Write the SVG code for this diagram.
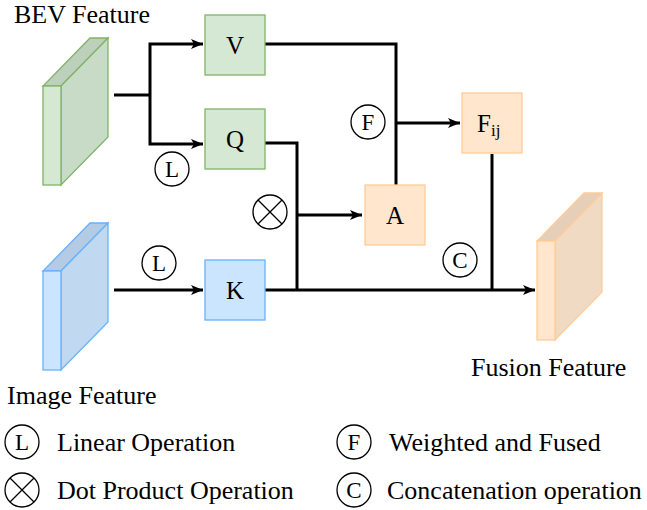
<svg xmlns="http://www.w3.org/2000/svg" width="647" height="510" viewBox="0 0 647 510">
<defs>
<marker id="ah" markerWidth="12" markerHeight="10" refX="12" refY="5" orient="auto" markerUnits="userSpaceOnUse">
<path d="M0,0 L12,5 L0,10 L3,5 Z" fill="#000"/>
</marker>
</defs>
<style>
.c{fill:#fff;stroke:#000;stroke-width:1.3}
.ln{fill:none;stroke:#000;stroke-width:3}
.g{stroke:#82b366;stroke-width:1.3}
.b{stroke:#66b2ff;stroke-width:1.3}
.o{stroke:#ffcc99;stroke-width:1.3}
.t{font-family:'Liberation Serif',serif}
</style>
<rect width="647" height="510" fill="#fff"/>

<g id="connectors">
<path class="ln" d="M114,95 H150 M150,95 V44 H203" marker-end="url(#ah)"/>
<path class="ln" d="M150,95 V144 H203" marker-end="url(#ah)"/>
<path class="ln" d="M265,44 H396 V185"/>
<path class="ln" d="M396,123 H460" marker-end="url(#ah)"/>
<path class="ln" d="M265,143 H297 V290"/>
<path class="ln" d="M297,215 H362" marker-end="url(#ah)"/>
<path class="ln" d="M114,290 H203" marker-end="url(#ah)"/>
<path class="ln" d="M265,290 H535" marker-end="url(#ah)"/>
<path class="ln" d="M492,154 V290"/>
</g>

<g id="bev">
<polygon class="g" points="43,86 61,86 108,38 90,38" fill="#bcd0bb"/>
<polygon class="g" points="61,86 108,38 108,137 61,185" fill="#c7dbc6"/>
<rect class="g" x="43" y="86" width="18" height="99" fill="#d5e8d4"/>
<text style="font-family:'Liberation Serif',serif" font-size="26" x="14" y="23">BEV Feature</text>
</g>

<g id="image">
<polygon class="b" points="43,271 61,271 108,223 90,223" fill="#b3cbe4"/>
<polygon class="b" points="61,271 108,223 108,322 61,370" fill="#c0d8f0"/>
<rect class="b" x="43" y="271" width="18" height="99" fill="#cce5ff"/>
<text font-family="Liberation Serif" font-size="26" x="7" y="404">Image Feature</text>
</g>

<g id="fusion">
<polygon class="o" points="537,241 555,241 602,193 584,193" fill="#e6cfb8"/>
<polygon class="o" points="555,241 602,193 602,292 555,340" fill="#f1dac3"/>
<rect class="o" x="537" y="241" width="18" height="99" fill="#ffe6cc"/>
<text class="t" font-size="26" x="471" y="376">Fusion Feature</text>
</g>

<g id="V">
<rect class="g" x="205" y="15" width="60" height="60" fill="#d5e8d4"/>
<text class="t" font-size="25" text-anchor="middle" x="235" y="54">V</text>
</g>
<g id="Q">
<rect class="g" x="205" y="109" width="60" height="60" fill="#d5e8d4"/>
<text class="t" font-size="25" text-anchor="middle" x="235" y="148">Q</text>
</g>
<g id="K">
<rect class="b" x="205" y="260" width="60" height="60" fill="#cce5ff"/>
<text class="t" font-size="25" text-anchor="middle" x="235" y="299">K</text>
</g>
<g id="A">
<rect class="o" x="365" y="185" width="60" height="60" fill="#ffe6cc"/>
<text class="t" font-size="25" text-anchor="middle" x="395" y="224">A</text>
</g>
<g id="Fij">
<rect class="o" x="462" y="93" width="60" height="60" fill="#ffe6cc"/>
<text class="t" x="477" y="132" font-size="25">F<tspan font-size="17" dy="4">ij</tspan></text>
</g>

<g id="opL1">
<circle class="c" cx="172" cy="169" r="17"/>
<text class="t" font-size="23" text-anchor="middle" x="172" y="177">L</text>
</g>
<g id="opL2">
<circle class="c" cx="159" cy="263" r="17"/>
<text class="t" font-size="23" text-anchor="middle" x="159" y="271">L</text>
</g>
<g id="opDot">
<circle class="c" cx="270" cy="212" r="17"/>
<path d="M258,200 L282,224 M282,200 L258,224" stroke="#000" stroke-width="1.3"/>
</g>
<g id="opF">
<circle class="c" cx="368" cy="122" r="17"/>
<text class="t" font-size="23" text-anchor="middle" x="368" y="130">F</text>
</g>
<g id="opC">
<circle class="c" cx="460" cy="260" r="17"/>
<text class="t" font-size="23" text-anchor="middle" x="460" y="268">C</text>
</g>

<g id="legend">
<circle class="c" cx="22" cy="442" r="17"/>
<text class="t" font-size="23" text-anchor="middle" x="22" y="450">L</text>
<text class="t" font-size="26" x="57" y="451">Linear Operation</text>
<circle class="c" cx="22" cy="490" r="17"/>
<path d="M10,478 L34,502 M34,478 L10,502" stroke="#000" stroke-width="1.3"/>
<text class="t" font-size="26" x="57" y="499">Dot Product Operation</text>
<circle class="c" cx="354" cy="442" r="17"/>
<text class="t" font-size="23" text-anchor="middle" x="354" y="450">F</text>
<text class="t" font-size="26" x="389" y="451">Weighted and Fused</text>
<circle class="c" cx="354" cy="490" r="17"/>
<text class="t" font-size="23" text-anchor="middle" x="354" y="498">C</text>
<text class="t" font-size="26" x="387" y="499">Concatenation operation</text>
</g>
</svg>
